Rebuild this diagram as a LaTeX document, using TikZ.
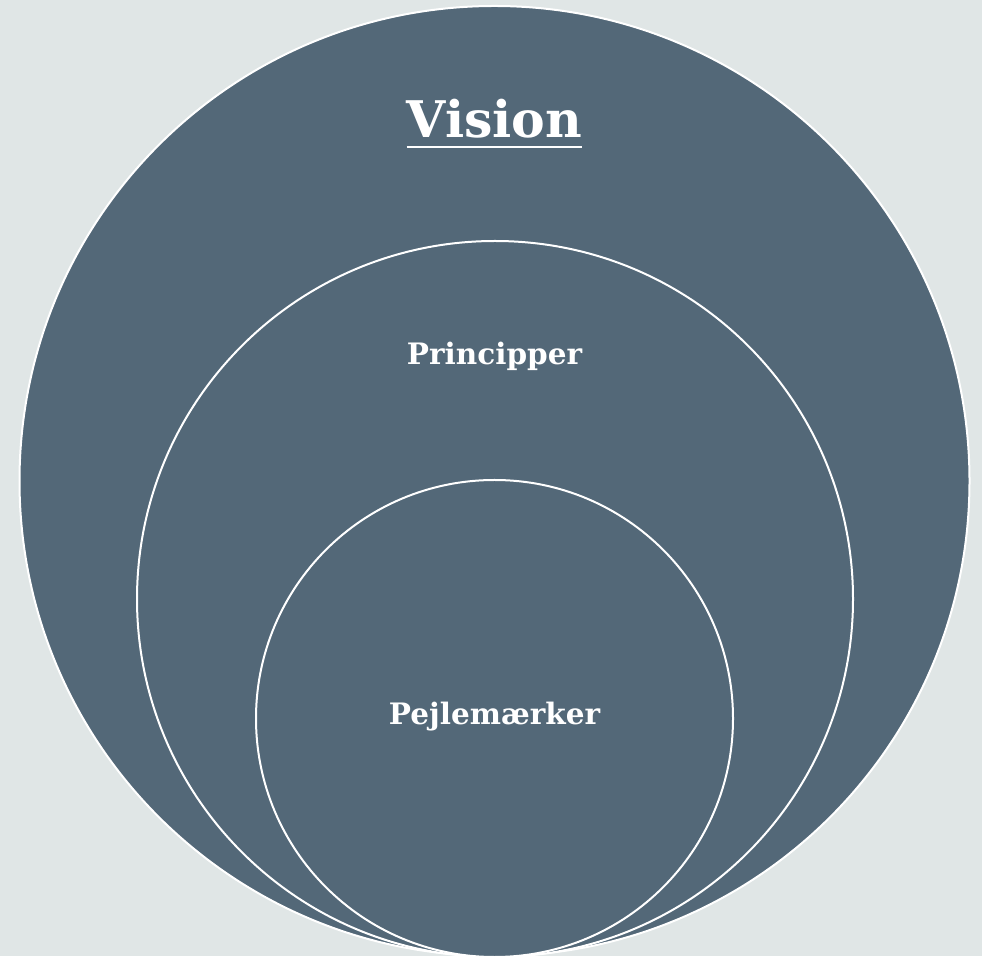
\documentclass[tikz,border=0pt]{standalone}
\usepackage{fontspec}
\setmainfont{DejaVu Serif}
\definecolor{bgc}{HTML}{E0E6E6}
\definecolor{ringfill}{HTML}{536878}
\begin{document}
\begin{tikzpicture}[x=1pt,y=1pt,
  ring/.style={circle,draw=white,line width=2pt,fill=ringfill,inner sep=0pt},
  lbl/.style={text=white,font=\bfseries,inner sep=0pt}]
\useasboundingbox[fill=bgc] (0,0) rectangle (982,956);
\node[ring,minimum size=950pt] (outer) at (494.5,475) {};
\node[ring,minimum size=716pt] (middle) at (495,357) {};
\node[ring,minimum size=477pt] (inner) at (494.5,237.5) {};
\node[lbl,font=\bfseries\fontsize{50.5}{54}\selectfont,anchor=base] (vision) at (494.5,818) {Vision};
\draw[white,line width=2.5pt] ([yshift=-9pt]vision.base west) -- ([yshift=-9pt]vision.base east);
\node[lbl,font=\bfseries\fontsize{29.5}{34}\selectfont,anchor=base] (princ) at (494.5,591) {Principper};
\node[lbl,font=\bfseries\fontsize{29.5}{34}\selectfont,anchor=base] (pejle) at (494.5,231) {Pejlemærker};
\end{tikzpicture}
\end{document}
